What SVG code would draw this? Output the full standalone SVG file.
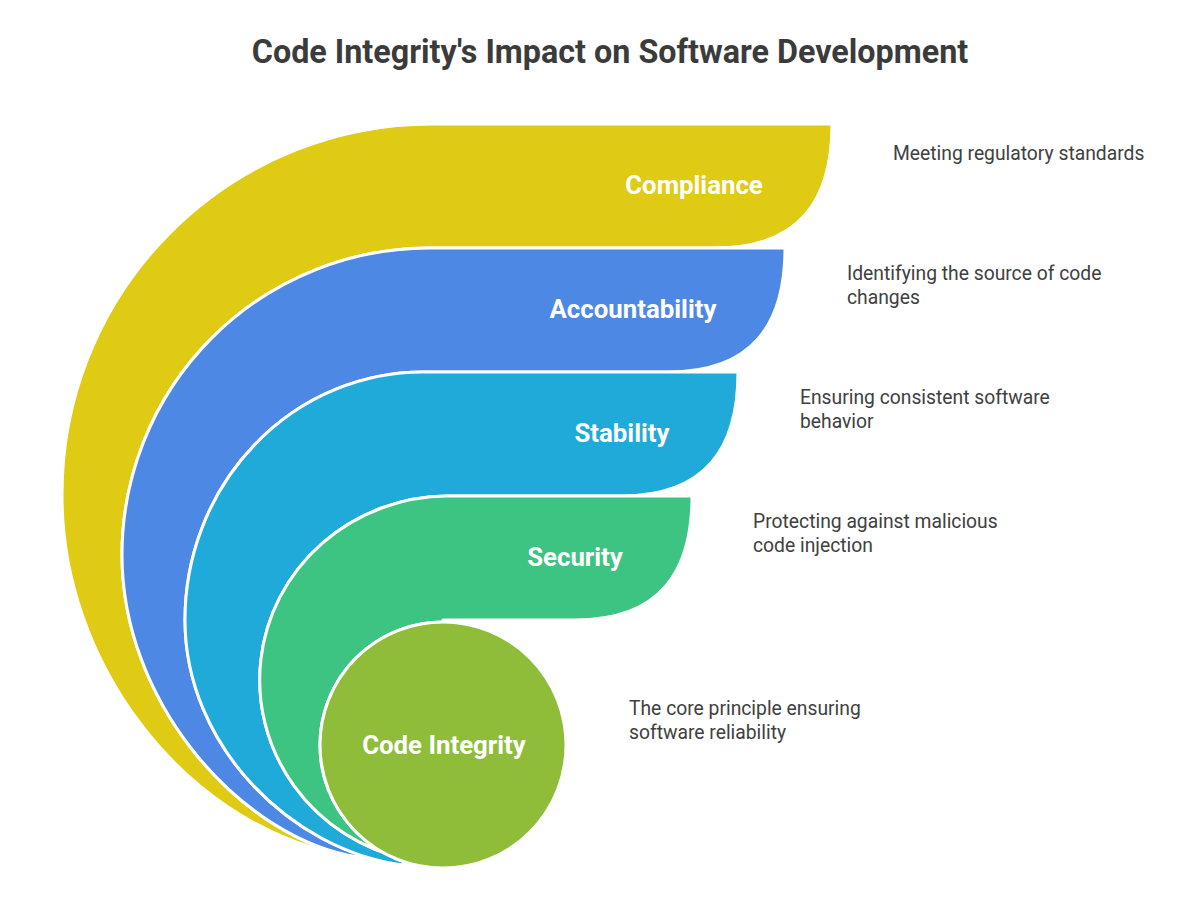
<svg xmlns="http://www.w3.org/2000/svg" width="1200" height="900" viewBox="0 0 1200 900">
<style>
.band{stroke:#ffffff;stroke-width:3;stroke-linejoin:round}
.lbl{font-family:Roboto,"Liberation Sans",sans-serif;font-weight:700;font-size:25.8px;fill:#ffffff;text-anchor:middle}
.desc{font-family:Roboto,"Liberation Sans",sans-serif;font-size:19.3px;fill:#404040}
.title{font-family:Roboto,"Liberation Sans",sans-serif;font-weight:700;font-size:32.3px;fill:#3b3b3b;text-anchor:middle}
</style>
<rect width="1200" height="900" fill="#ffffff"/>
<text class="title" x="610" y="63">Code Integrity's Impact on Software Development</text>
<g id="connectors"></g>
<g id="compliance">
<path class="band" fill="#dfca14" d="M 337 854 C 180 820 61 660 62 494 A 370 370 0 0 1 432 124 H 832 C 832 200 800 248 715 248 H 429 A 307 307 0 0 0 122 555 C 122 700 235 830 347 855 Z"/>
<text class="lbl" x="694" y="194">Compliance</text>
<text class="desc" x="893" y="160">Meeting regulatory standards</text>
</g>
<g id="accountability">
<path class="band" fill="#4d88e5" d="M 347 855 C 235 830 122 700 122 555 A 307 307 0 0 1 429 248 H 785 C 785 324 753 372 668 372 H 423 A 238 248 0 0 0 185 620 C 185 745 290 850 403 865 Z"/>
<text class="lbl" x="633" y="318">Accountability</text>
<text class="desc" x="847" y="280">Identifying the source of code</text>
<text class="desc" x="847" y="304">changes</text>
</g>
<g id="stability">
<path class="band" fill="#1faad9" d="M 403 865 C 290 850 185 745 185 620 A 238 248 0 0 1 423 372 H 738 C 738 448 706 496 621 496 H 447 A 189 184 0 0 0 405 859 Z"/>
<text class="lbl" x="622" y="442">Stability</text>
<text class="desc" x="800" y="404">Ensuring consistent software</text>
<text class="desc" x="800" y="428">behavior</text>
</g>
<g id="security">
<path class="band" fill="#3dc482" d="M 405 859 A 189 184 0 0 1 447 496 H 692 C 692 572 660 620 575 620 H 443 L 443 622 A 123 123 0 0 0 405 862 Z"/>
<text class="lbl" x="575" y="566">Security</text>
<text class="desc" x="753" y="528">Protecting against malicious</text>
<text class="desc" x="753" y="552">code injection</text>
</g>
<g id="code-integrity">
<circle class="band" cx="443" cy="745" r="123" fill="#8fbd3a"/>
<text class="lbl" x="444" y="754">Code Integrity</text>
<text class="desc" x="629" y="715">The core principle ensuring</text>
<text class="desc" x="629" y="739">software reliability</text>
</g>
</svg>
